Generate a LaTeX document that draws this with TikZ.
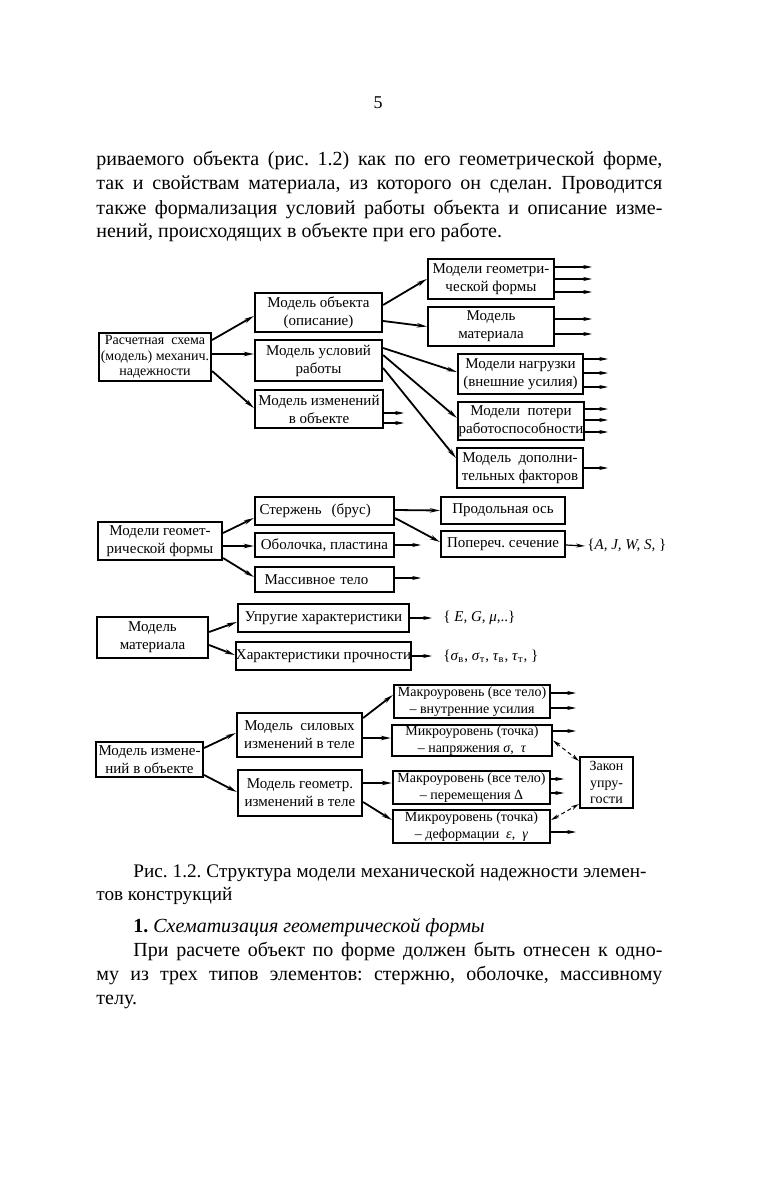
\documentclass[tikz,border=0pt]{standalone}
\usepackage{fontspec}
\setmainfont{Liberation Serif}
\usetikzlibrary{arrows.meta, positioning}
\frenchspacing

\tikzset{
  box/.style={draw, line width=1.1pt, inner sep=0pt, align=center,
    font=\fontsize{7.5}{9}\selectfont},
  small/.style={font=\fontsize{7}{8.3}\selectfont},
  sz/.style 2 args={minimum width=#1*0.5pt, minimum height=#2*0.5pt},
  arr/.style={-{Stealth[length=5pt,width=2.2pt]}, line width=0.9pt},
  stub/.style={-{Stealth[length=4.5pt,width=2pt]}, line width=0.6pt},
  link/.style={{Stealth[length=4pt,width=2pt]}-{Stealth[length=4pt,width=2pt]},
    line width=0.5pt, dash pattern=on 2pt off 1.5pt},
  bodytext/.style={anchor=base west, inner sep=0pt, font=\fontsize{10}{12}\selectfont},
  settext/.style={anchor=west, inner sep=1pt, font=\fontsize{7.5}{9}\selectfont},
}

\begin{document}
\begin{tikzpicture}[x=0.5pt,y=-0.5pt]
\fill[white] (0,0) rectangle (757,1182);
\useasboundingbox (0,0) rectangle (757,1182);

% Page text
\node[anchor=base, inner sep=0pt, font=\fontsize{9}{10}\selectfont] (pagenum) at (378,109) {5};
\node[bodytext] (t1) at (96,166) {\makebox[283pt][s]{риваемого объекта (рис. 1.2) как по его геометрической форме,}};
\node[bodytext] (t2) at (96,190) {\makebox[283pt][s]{так и свойствам материала, из которого он сделан. Проводится}};
\node[bodytext] (t3) at (96,214) {\makebox[283pt][s]{также формализация условий работы объекта и описание изме-}};
\node[bodytext] (t4) at (96,238) {нений, происходящих в объекте при его работе.};

% Main scheme
\node[box, sz={112}{48}, font=\fontsize{7}{7.8}\selectfont] (rasch) at (155,357)
  {Расчетная\ \ схема\\(модель) механич.\\надежности};
\node[box, sz={127}{39}] (obj) at (318.5,312.5) {Модель объекта\\(описание)};
\node[box, sz={127}{41}] (usl) at (318.5,360.5) {Модель условий\\работы};
\node[box, sz={128}{38}] (izm) at (319,409) {Модель изменений\\в объекте};
\node[box, sz={126}{40}] (geomf) at (491,279) {Модели геометри-\\ческой формы};
\node[box, sz={126}{39}] (mat) at (491,326.5) {Модель\\материала};
\node[box, sz={125}{40}] (nagr) at (520.5,374) {Модели нагрузки\\(внешние усилия)};
\node[box, sz={126}{38}] (pot) at (521,421) {Модели\ \ потери\\работоспособности};
\node[box, sz={126}{40}] (dop) at (520,468) {Модель\ \ дополни-\\тельных факторов};

\draw[arr] ([yshift=8.5pt]rasch.east) -- ([yshift=-1.75pt]obj.west);
\draw[arr] ([yshift=1.5pt]rasch.east) -- ([yshift=3.25pt]usl.west);
\draw[arr] ([yshift=-7pt]rasch.east) -- ([yshift=0.5pt]izm.west);
\draw[arr] ([yshift=3.75pt]obj.east) -- (geomf.west);
\draw[arr] ([yshift=-4.25pt]obj.east) -- (mat.west);
\draw[arr] ([yshift=6.25pt]usl.east) -- ([yshift=1pt]nagr.west);
\draw[arr] ([yshift=2.75pt]usl.east) -- ([yshift=1.5pt]pot.west);
\draw[arr] ([yshift=-3.75pt]usl.east) -- ([yshift=5pt]dop.west);
% Free outputs
\draw[stub] ([yshift=-2pt]izm.east) -- ++(20,0);
\draw[stub] ([yshift=-7pt]izm.east) -- ++(20,0);
\draw[stub] ([yshift=6pt]geomf.east) -- ++(37,0);
\draw[stub] (geomf.east) -- ++(37,0);
\draw[stub] ([yshift=-6.5pt]geomf.east) -- ++(37,0);
\draw[stub] ([yshift=3.75pt]mat.east) -- ++(37,0);
\draw[stub] ([yshift=-3.75pt]mat.east) -- ++(37,0);
\draw[stub] ([yshift=7.5pt]nagr.east) -- ++(24,0);
\draw[stub] ([yshift=0.5pt]nagr.east) -- ++(24,0);
\draw[stub] ([yshift=-6.5pt]nagr.east) -- ++(24,0);
\draw[stub] ([yshift=6pt]pot.east) -- ++(23,0);
\draw[stub] ([yshift=0.5pt]pot.east) -- ++(23,0);
\draw[stub] ([yshift=-5.5pt]pot.east) -- ++(23,0);
\draw[stub] (dop.east) -- ++(24,0);

% Geometric form
\node[box, sz={124}{38}] (mgf) at (160,541) {Модели геомет-\\рической формы};
\node[box, sz={139}{28}, text width=65pt, align=left] (sterzh) at (324.5,511) {Стержень\ \ (брус)};
\node[box, sz={139}{24}] (obol) at (324.5,545) {Оболочка, пластина};
\node[box, sz={139}{25}, text width=65pt, align=left] (mass) at (324.5,579.5) {\ Массивное тело};
\node[box, sz={124}{27}] (prod) at (503,510.5) {Продольная ось};
\node[box, sz={124}{26}] (popr) at (503,544) {Попереч. сечение};
\node[settext] (setA) at (585,545) {\{\textit{A, J, W, S,} \}};

\draw[arr] ([yshift=4pt]mgf.east) -- ([yshift=-3.5pt]sterzh.west);
\draw[arr] ([yshift=-2.5pt]mgf.east) -- ([yshift=-0.5pt]obol.west);
\draw[arr] ([yshift=-8.5pt]mgf.east) -- ([yshift=1.25pt]mass.west);
\draw[arr] ([yshift=0.5pt]sterzh.east) -- (prod.west);
\draw[arr] ([yshift=-3.5pt]sterzh.east) -- ([yshift=1pt]popr.west);
\draw[stub] (obol.east) -- ++(26,0);
\draw[stub] ([yshift=0.75pt]mass.east) -- ++(26,0);
\draw[stub] ([yshift=-0.5pt]popr.east) -- ([yshift=-0.5pt]setA.west);

% Material
\node[box, sz={111}{41}] (mm) at (152.5,637.5) {Модель\\материала};
\node[box, sz={171}{28}] (upr) at (323.5,618) {Упругие характеристики};
\node[box, sz={171}{28}] (proch) at (323.5,656) {Характеристики прочности};
\node[settext] (elast) at (441,618) {\{ \textit{E, G, μ},..\}};
\node[settext] (strength) at (441,656)
  {\{\textit{σ}\textsubscript{в}, \textit{σ}\textsubscript{т}, \textit{τ}\textsubscript{в}, \textit{τ}\textsubscript{т}, \}};

\draw[arr] ([yshift=2.75pt]mm.east) -- ([yshift=-2pt]upr.west);
\draw[arr] ([yshift=-3.75pt]mm.east) -- ([yshift=0.5pt]proch.west);
\draw[stub] (upr.east) -- ([xshift=-4.5pt]elast.west);
\draw[stub] (proch.east) -- ([xshift=-4.5pt]strength.west);

% Changes in the object
\node[box, sz={107}{35}] (miz) at (149.5,759.5) {Модель измене-\\ний в объекте};
\node[box, sz={125}{44}] (sil) at (299.5,735) {Модель\ \ силовых\\изменений в теле};
\node[box, sz={124}{46}] (geo) at (300,793) {Модель геометр.\\изменений в теле};
\node[box, small, sz={156}{33}] (mak1) at (472,701.5) {Макроуровень (все тело)\\– внутренние усилия};
\node[box, small, sz={160}{31}] (mik1) at (472,740.5) {Микроуровень (точка)\\– напряжения \textit{σ},\ \ \textit{τ}};
\node[box, small, sz={157}{33}] (mak2) at (471.5,787.5) {Макроуровень (все тело)\\– перемещения Δ};
\node[box, small, sz={157}{33}] (mik2) at (471.5,826.5) {Микроуровень (точка)\\– деформации\ \ \textit{ε},\ \ \textit{γ}};
\node[box, small, sz={53}{51}] (zak) at (606.5,782.5) {Закон\\упру-\\гости};

\draw[arr] ([yshift=5.75pt]miz.east) -- ([yshift=1pt]sil.west);
\draw[arr] ([yshift=-7.75pt]miz.east) -- ([yshift=0.5pt]geo.west);
\draw[arr] ([yshift=8.5pt]sil.east) -- ([yshift=3.25pt]mak1.west);
\draw[arr] ([yshift=-1.5pt]sil.east) -- ([yshift=1.25pt]mik1.west);
\draw[arr] ([yshift=5pt]geo.east) -- ([yshift=2.25pt]mak2.west);
\draw[arr] ([yshift=-4.5pt]geo.east) -- ([yshift=3.25pt]mik2.west);
\draw[stub] ([yshift=4.25pt]mak1.east) -- ++(25,0);
\draw[stub] ([yshift=-3.25pt]mak1.east) -- ++(25,0);
\draw[stub] ([yshift=4.75pt]mik1.east) -- ++(23,0);
\draw[stub] ([yshift=4.25pt]mak2.east) -- ++(13,0);
\draw[stub] ([yshift=-2.75pt]mak2.east) -- ++(13,0);
\draw[stub] ([yshift=-2.75pt]mik2.east) -- ++(25,0);
\draw[link] (mik1.east) -- ([yshift=-2.5pt]zak.north west);
\draw[link] ([yshift=3.25pt]mik2.east) -- ([yshift=2.5pt]zak.south west);

% Caption and next section
\node[bodytext, font=\fontsize{9.6}{12}\selectfont] (cap1) at (133,877) {\makebox[256.5pt][s]{Рис. 1.2. Структура модели механической надежности элемен-}};
\node[bodytext, font=\fontsize{9.6}{12}\selectfont] (cap2) at (96,900) {тов конструкций};
\node[bodytext] (head) at (133,932) {\textbf{1.} \textit{Схематизация геометрической формы}};
\node[bodytext] (p1) at (133,956) {\makebox[264.5pt][s]{При расчете объект по форме должен быть отнесен к одно-}};
\node[bodytext] (p2) at (96,980) {\makebox[283pt][s]{му из трех типов элементов: стержню, оболочке, массивному}};
\node[bodytext] (p3) at (96,1004) {телу.};

\end{tikzpicture}
\end{document}
